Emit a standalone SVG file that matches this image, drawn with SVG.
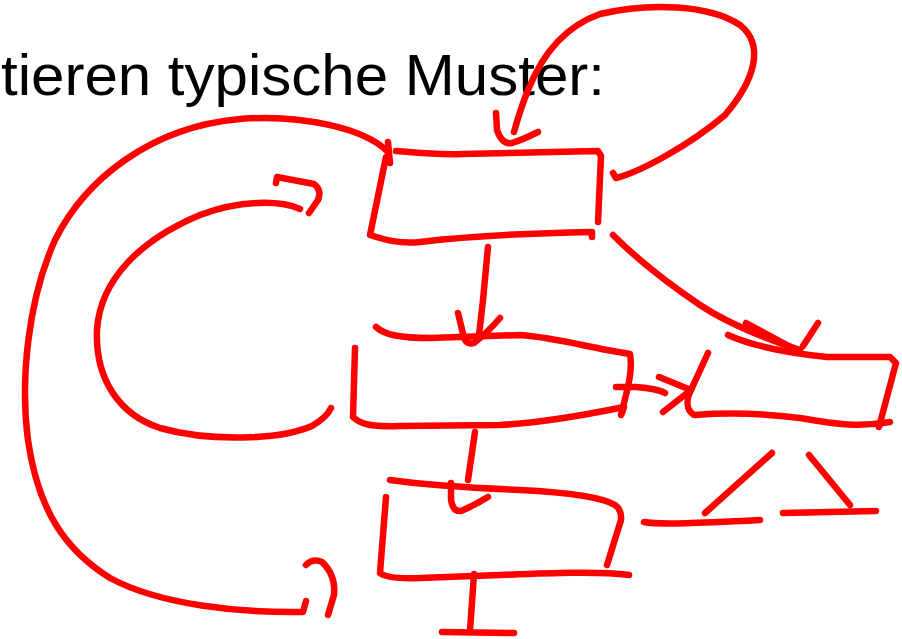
<svg xmlns="http://www.w3.org/2000/svg" width="902" height="639" viewBox="0 0 902 639">
<style>
.pen{fill:none;stroke:#ff0000;stroke-width:6.5;stroke-linecap:round;stroke-linejoin:round}
.title{font-family:"Liberation Sans",Arial,sans-serif;font-size:58px;fill:#000}
</style>
<rect width="902" height="639" fill="#fff"/>
<text class="title" x="1" y="95" textLength="604" lengthAdjust="spacingAndGlyphs">tieren typische Muster:</text>
<g id="box-top" class="pen">
<path d="M396,151 C420,153 440,155 462,154 L598,151 L601,156 L598,222"/>
<path d="M386,157 L370,235 C385,240 400,244 420,242 C470,236 540,233 592,232 L592,237"/>
<path d="M388,142 L390,163"/>
</g>
<g id="box-mid" class="pen">
<path d="M376,327 C385,335 400,338 430,338 L520,335 C550,337 580,345 607,350 L630,354 C632,365 630,380 626,395 L621,415"/>
<path d="M355,348 L353,417 C360,424 370,427 400,426 L500,425 C540,423 580,416 624,407 L622,413"/>
</g>
<g id="box-right" class="pen">
<path d="M728,335 C750,345 780,352 827,357 L890,357 L896,363 L879,427"/>
<path d="M708,353 L691,390 C686,400 686,410 694,415 C720,413 760,413 800,418 C840,425 860,427 890,422"/>
</g>
<g id="box-bottom" class="pen">
<path d="M390,480 C420,484 450,487 520,490 C560,492 600,496 615,505 Q622,510 621,520 L607,565"/>
<path d="M386,497 L380,573 C385,577 395,579 420,578 L500,575 C550,573 600,571 629,575"/>
</g>
<g id="fork" class="pen">
<path d="M772,453 L705,513"/>
<path d="M809,455 L850,505"/>
<path d="M644,522 C660,525 700,523 760,520"/>
<path d="M783,513 L876,511"/>
</g>
<g id="end" class="pen">
<path d="M474,574 L470,631"/>
<path d="M442,632 L514,633"/>
</g>
<g id="connectors" class="pen">
<path d="M388,152 C365,128 300,114 240,119 C150,127 85,180 55,240 C28,300 20,380 28,440 C38,510 65,550 110,578 C160,605 240,613 303,612 L306,601"/>
<path d="M306,565 Q313,558 322,562 Q336,575 334,595 L328,615"/>
<path d="M300,209 C280,200 240,200 200,215 C140,240 100,280 97,330 C95,380 120,415 160,428 C210,442 280,440 312,426 C322,420 328,415 331,408"/>
<path d="M276,183 L277,177 L314,184 Q322,190 318,200 L309,213"/>
<path d="M613,173 L616,178 C640,172 690,145 725,115 C755,80 765,45 740,25 C710,5 650,2 600,14 C560,28 540,60 528,90 C520,110 516,125 514,132"/>
<path d="M496,113 L497,130 Q502,145 512,143 Q522,140 538,132"/>
<path d="M613,235 C630,252 660,278 700,305 C730,325 770,340 800,350"/>
<path d="M746,323 L800,352 M818,323 L803,346"/>
<path d="M488,247 L483,300 L479,335"/>
<path d="M458,313 L464,338 Q467,345 474,343 Q488,332 500,318"/>
<path d="M616,387 L636,387 C650,388 660,390 665,393"/>
<path d="M659,377 L691,390 L663,412"/>
<path d="M475,432 L468,480"/>
<path d="M451,483 L451,500 Q453,512 461,511 Q475,505 488,497"/>
</g>
</svg>
